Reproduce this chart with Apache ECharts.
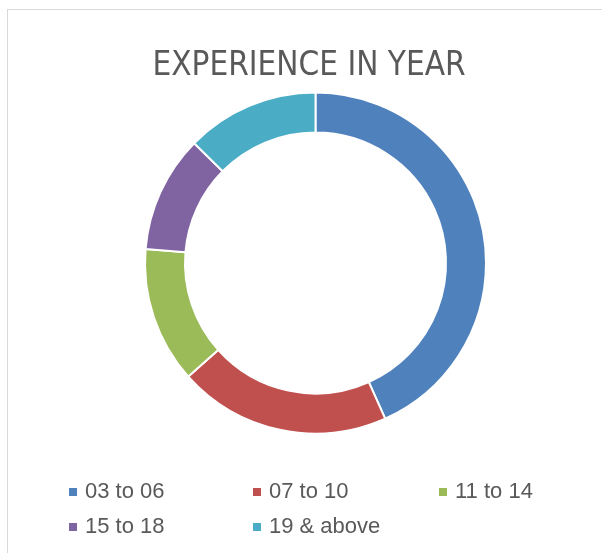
<!DOCTYPE html>
<html>
<head>
<meta charset="utf-8">
<script src="https://cdn.jsdelivr.net/npm/echarts@6/dist/echarts.min.js"></script>
<style>
  html, body { margin: 0; padding: 0; background: #fff; }
  #chart { width: 602px; height: 553px; }
</style>
</head>
<body>
<div id="chart"></div>
<script>
// data
const categories = ["03 to 06", "07 to 10", "11 to 14", "15 to 18", "19 & above"];
const shares = [43.3, 20.1, 12.9, 11.1, 12.6];
const colors = ["#4F81BD", "#C0504D", "#9BBB59", "#8064A2", "#4BACC6"];

// legend slots (left, top) - 3 columns, 2 rows
const legendPos = [[67, 481], [251, 481], [437, 481], [67, 516], [251, 516]];

const chart = echarts.init(document.getElementById("chart"));

chart.setOption({
  color: colors,
  animation: false,
  title: {
    text: "EXPERIENCE IN YEAR",
    left: 304,
    top: 45,
    textAlign: "center",
    textStyle: {
      fontFamily: "'Liberation Sans Narrow', 'DejaVu Sans Condensed', sans-serif",
      fontSize: 33,
      fontWeight: "normal",
      color: "#595959",
    },
  },
  legend: categories.map((name, i) => ({
    data: [name],
    left: legendPos[i][0],
    top: legendPos[i][1],
    padding: 0,
    icon: "rect",
    itemWidth: 10,
    itemHeight: 10,
    selectedMode: false,
    textStyle: {
      fontFamily: "'Liberation Sans', Arial, sans-serif",
      fontSize: 22,
      color: "#595959",
      padding: [0, 0, 0, 2],
    },
  })),
  graphic: [
    // chart frame (top and left edges visible)
    { type: "line", shape: { x1: 7, y1: 9.5, x2: 602, y2: 9.5 }, style: { stroke: "#d9d9d9", lineWidth: 1 } },
    { type: "line", shape: { x1: 7.5, y1: 9, x2: 7.5, y2: 553 }, style: { stroke: "#d9d9d9", lineWidth: 1 } },
  ],
  series: [
    {
      name: "Experience",
      type: "pie",
      center: [315.5, 263],
      radius: [130.5, 170.5],
      startAngle: 90,
      clockwise: true,
      label: { show: false },
      labelLine: { show: false },
      emphasis: { disabled: true },
      itemStyle: {
        borderColor: "#fff",
        borderWidth: 2,
      },
      data: categories.map((name, i) => ({ name: name, value: shares[i] })),
    },
  ],
});
</script>
</body>
</html>
